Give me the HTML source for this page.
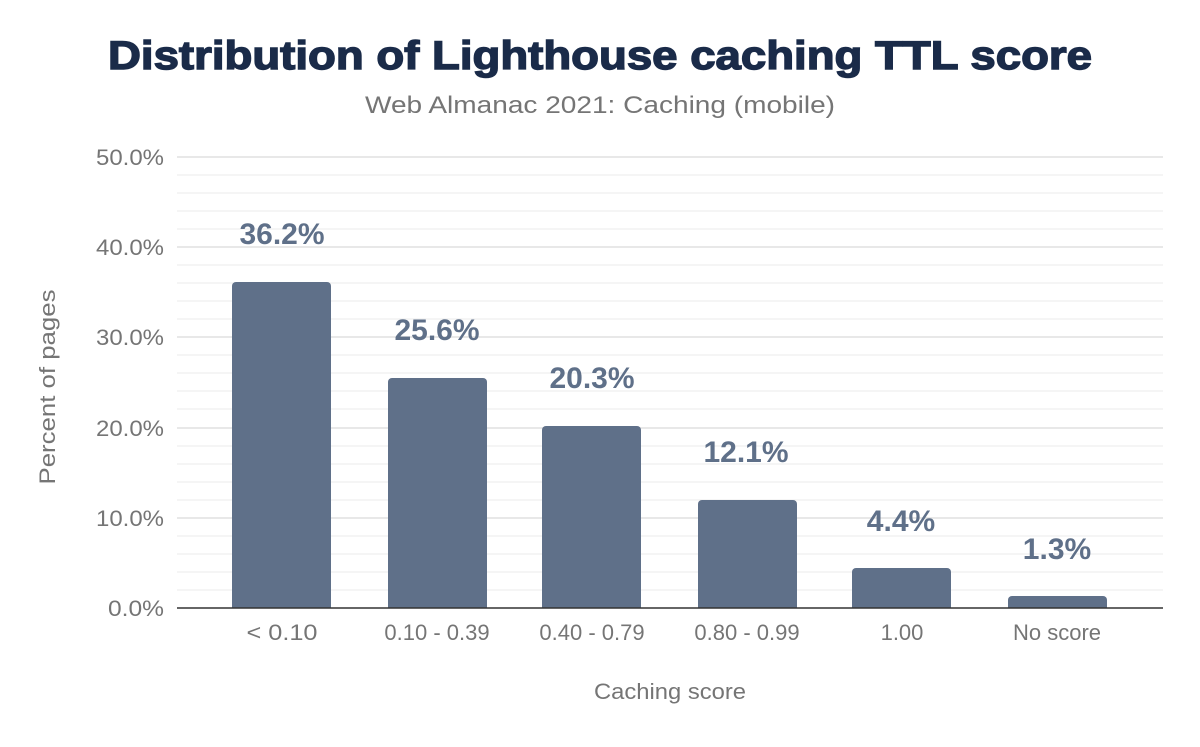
<!DOCTYPE html><html><head><style>body{margin:0;background:#fff}</style></head><body>
<svg width="1200" height="742" xmlns="http://www.w3.org/2000/svg" font-family="Liberation Sans, sans-serif">
<rect width="1200" height="742" fill="#fff"/>
<text x="600" y="69" text-anchor="middle" font-size="40" font-weight="900" fill="#1a2b49" stroke="#1a2b49" stroke-width="1.4" textLength="984" lengthAdjust="spacingAndGlyphs">Distribution of Lighthouse caching TTL score</text>
<text x="600" y="113" text-anchor="middle" font-size="24" fill="#757575" textLength="470" lengthAdjust="spacingAndGlyphs">Web Almanac 2021: Caching (mobile)</text>
<g stroke="#f2f2f2" stroke-width="1.5">
<line x1="177" x2="1163" y1="175" y2="175"/><line x1="177" x2="1163" y1="193" y2="193"/><line x1="177" x2="1163" y1="211" y2="211"/><line x1="177" x2="1163" y1="229" y2="229"/>
<line x1="177" x2="1163" y1="265" y2="265"/><line x1="177" x2="1163" y1="283" y2="283"/><line x1="177" x2="1163" y1="301" y2="301"/><line x1="177" x2="1163" y1="319" y2="319"/>
<line x1="177" x2="1163" y1="355" y2="355"/><line x1="177" x2="1163" y1="373" y2="373"/><line x1="177" x2="1163" y1="391" y2="391"/><line x1="177" x2="1163" y1="409" y2="409"/>
<line x1="177" x2="1163" y1="446" y2="446"/><line x1="177" x2="1163" y1="464" y2="464"/><line x1="177" x2="1163" y1="482" y2="482"/><line x1="177" x2="1163" y1="500" y2="500"/>
<line x1="177" x2="1163" y1="536" y2="536"/><line x1="177" x2="1163" y1="554" y2="554"/><line x1="177" x2="1163" y1="572" y2="572"/><line x1="177" x2="1163" y1="590" y2="590"/>
</g>
<g stroke="#e8e8e8" stroke-width="2">
<line x1="177" x2="1163" y1="157" y2="157"/><line x1="177" x2="1163" y1="247" y2="247"/><line x1="177" x2="1163" y1="337" y2="337"/><line x1="177" x2="1163" y1="428" y2="428"/><line x1="177" x2="1163" y1="518" y2="518"/>
</g>
<g font-size="22" fill="#757575" text-anchor="end">
<text x="164" y="165" textLength="68" lengthAdjust="spacingAndGlyphs">50.0%</text><text x="164" y="255" textLength="68" lengthAdjust="spacingAndGlyphs">40.0%</text><text x="164" y="345" textLength="68" lengthAdjust="spacingAndGlyphs">30.0%</text><text x="164" y="436" textLength="68" lengthAdjust="spacingAndGlyphs">20.0%</text><text x="164" y="526" textLength="68" lengthAdjust="spacingAndGlyphs">10.0%</text><text x="164" y="616" textLength="56" lengthAdjust="spacingAndGlyphs">0.0%</text>
</g>
<text transform="translate(55,387) rotate(-90)" text-anchor="middle" font-size="22" fill="#757575" textLength="195" lengthAdjust="spacingAndGlyphs">Percent of pages</text>
<g fill="#5f7089">
<path d="M232,608V286a4,4 0 0 1 4,-4H327a4,4 0 0 1 4,4V608z"/>
<path d="M388,608V382a4,4 0 0 1 4,-4H483a4,4 0 0 1 4,4V608z"/>
<path d="M542,608V430a4,4 0 0 1 4,-4H637a4,4 0 0 1 4,4V608z"/>
<path d="M698,608V504a4,4 0 0 1 4,-4H793a4,4 0 0 1 4,4V608z"/>
<path d="M852,608V572a4,4 0 0 1 4,-4H947a4,4 0 0 1 4,4V608z"/>
<path d="M1008,608V600a4,4 0 0 1 4,-4H1103a4,4 0 0 1 4,4V608z"/>
</g>
<line x1="177" x2="1163" y1="608" y2="608" stroke="#333" stroke-width="1.5"/>
<g font-size="30" font-weight="bold" fill="#5f7089" text-anchor="middle">
<text x="282" y="244">36.2%</text><text x="437" y="340">25.6%</text><text x="592" y="388">20.3%</text><text x="746" y="462">12.1%</text><text x="901" y="531">4.4%</text><text x="1057" y="559">1.3%</text>
</g>
<g font-size="22" fill="#757575" text-anchor="middle">
<text x="282" y="640" textLength="71" lengthAdjust="spacingAndGlyphs">&lt; 0.10</text><text x="437" y="640">0.10 - 0.39</text><text x="592" y="640">0.40 - 0.79</text><text x="747" y="640">0.80 - 0.99</text><text x="902" y="640">1.00</text><text x="1057" y="640">No score</text>
</g>
<text x="670" y="699" text-anchor="middle" font-size="22" fill="#757575" textLength="152" lengthAdjust="spacingAndGlyphs">Caching score</text>
</svg></body></html>
